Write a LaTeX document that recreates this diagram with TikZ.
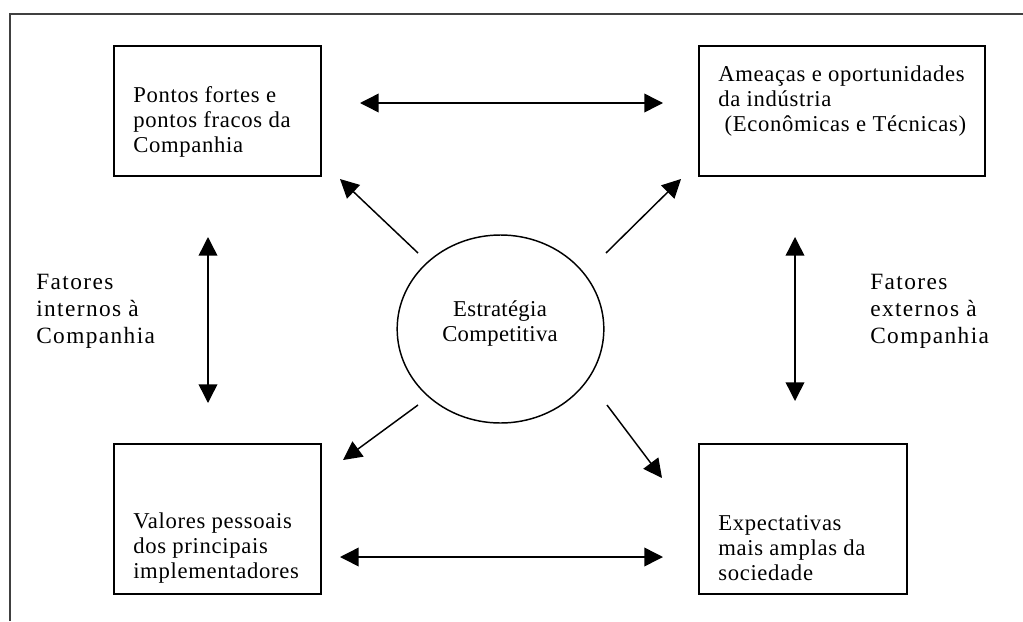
\documentclass[tikz,border=0pt]{standalone}
\usepackage{fontspec}
\setmainfont{Liberation Serif}
\usetikzlibrary{arrows.meta,shapes.geometric,fit}
\begin{document}
\begin{tikzpicture}[x=0.75pt,y=-0.75pt,
  boxst/.style={draw,line width=1.4pt,inner sep=0pt},
  txt/.style={anchor=west,align=left,inner sep=0pt,font=\fontsize{17}{18.75}\selectfont\addfontfeature{LetterSpace=3}},
  sidetxt/.style={anchor=west,align=left,inner sep=0pt,font=\fontsize{17.5}{20.25}\selectfont\addfontfeature{LetterSpace=6}},
  arr/.style={line width=1.1pt,-{Triangle[length=14pt,width=14pt]}},
  darr/.style={line width=1.1pt,{Triangle[length=14pt,width=14pt]}-{Triangle[length=14pt,width=14pt]}}]
\useasboundingbox (0,0) rectangle (1023,621);
% frame
\draw[line width=1.5pt,black!75] (10,621) -- (10,14) -- (1023,14);
% boxes
\node (tl) [boxst,fit={(114,46) (321,176)}] {};
\node (tr) [boxst,fit={(699,46) (985,176)}] {};
\node (bl) [boxst,fit={(114,444) (321,594)}] {};
\node (br) [boxst,fit={(699,444) (907,594)}] {};
\node (c) [draw,line width=1.1pt,ellipse,minimum width=155pt,minimum height=141pt] at (500.5,329) {};
% texts
\node (tltxt) [txt] at (133,122) {Pontos fortes e\\pontos fracos da\\Companhia};
\node (trtxt) [txt] at (718,101) {Ameaças e oportunidades\\da indústria\\\ (Econômicas e Técnicas)};
\node (bltxt) [txt] at (133,548) {Valores pessoais\\dos principais\\implementadores};
\node (brtxt) [txt] at (718,548) {Expectativas\\mais amplas da\\sociedade};
\node (ctxt) [align=center,inner sep=0pt,font=\fontsize{17}{18.75}\selectfont\addfontfeature{LetterSpace=1.5}] at (500,324) {Estratégia\\Competitiva};
\node (ltxt) [sidetxt] at (36,311) {Fatores\\internos à\\Companhia};
\node (rtxt) [sidetxt] at (870,311) {Fatores\\externos à\\Companhia};
% arrow endpoints
\coordinate (t1) at (360,103); \coordinate (t2) at (663,103);
\coordinate (b1) at (340,557); \coordinate (b2) at (663,557);
\coordinate (l1) at (208,237); \coordinate (l2) at (208,403);
\coordinate (r1) at (795,237); \coordinate (r2) at (795,401);
\coordinate (d1s) at (418,253); \coordinate (d1e) at (340,179);
\coordinate (d2s) at (606,253); \coordinate (d2e) at (681,179);
\coordinate (d3s) at (418,405); \coordinate (d3e) at (343,460);
\coordinate (d4s) at (607,405); \coordinate (d4e) at (662,478);
\draw[darr] (t1) -- (t2);
\draw[darr] (b1) -- (b2);
\draw[darr] (l1) -- (l2);
\draw[darr] (r1) -- (r2);
\draw[arr] (d1s) -- (d1e);
\draw[arr] (d2s) -- (d2e);
\draw[arr] (d3s) -- (d3e);
\draw[arr] (d4s) -- (d4e);
\end{tikzpicture}
\end{document}
